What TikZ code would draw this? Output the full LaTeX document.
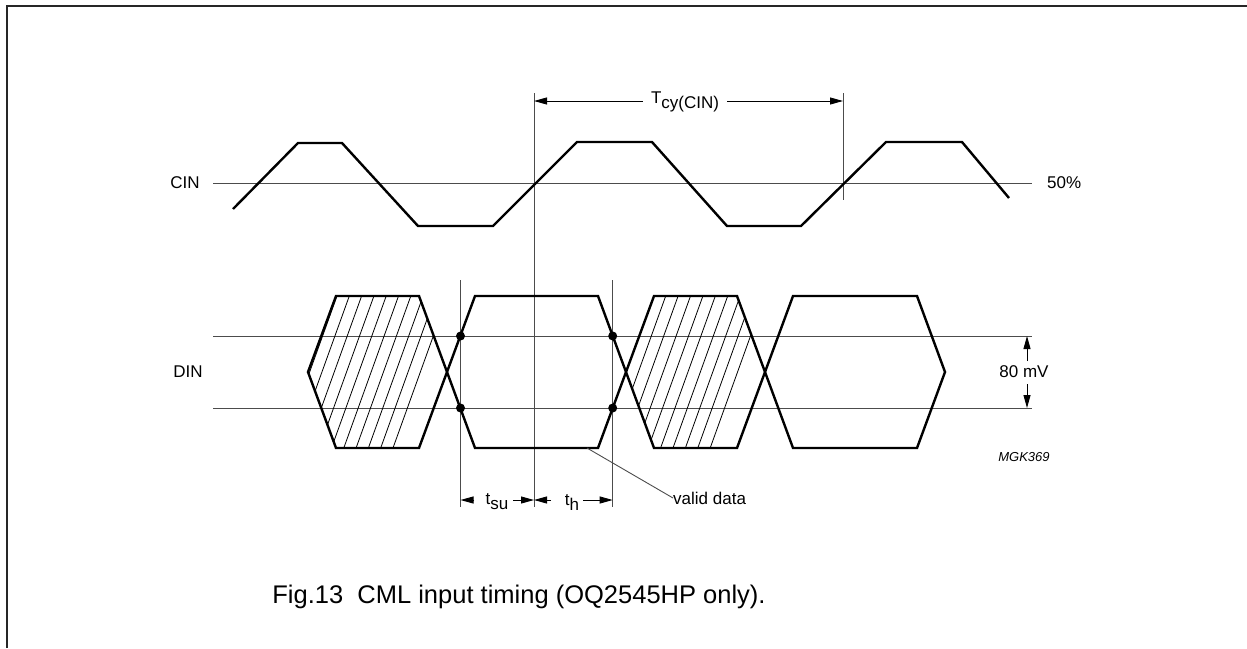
\documentclass[tikz,border=0pt]{standalone}
\usepackage{fontspec}
\setmainfont{Liberation Sans}
\usetikzlibrary{arrows.meta}
\newcommand\lowr[1]{\raisebox{-5pt}{#1}}
\begin{document}
\begin{tikzpicture}[x=1pt,y=-1pt,
  wave/.style={line width=2.4pt, line join=miter},
  thinln/.style={line width=0.9pt, draw=black!70},
  hatchln/.style={line width=0.8pt},
  dimarr/.style={line width=0.9pt, -{Triangle[length=13pt,width=7pt]}},
  lbl/.style={font=\fontsize{17}{19}\selectfont, inner sep=0pt},
  dotmark/.style={circle, fill=black, inner sep=0pt, minimum size=9pt}]
\useasboundingbox (0,0) rectangle (1247,648);
% frame
\draw[line width=2pt, black!85] (7,648) -- (7,6) -- (1247,6);

% reference lines
\coordinate (cinL) at (213,183); \coordinate (cinR) at (1032,183);
\draw[thinln] (cinL) -- (cinR);
\coordinate (thA1) at (213,336); \coordinate (thA2) at (1032,336);
\coordinate (thB1) at (213,408); \coordinate (thB2) at (1032,408);
\draw[thinln] (thA1) -- (thA2);
\draw[thinln] (thB1) -- (thB2);
\coordinate (v1t) at (534,93); \coordinate (v1b) at (534,507);
\coordinate (v2t) at (843,93); \coordinate (v2b) at (843,200);
\coordinate (v3t) at (460.5,280); \coordinate (v3b) at (460.5,507);
\coordinate (v4t) at (612.7,280); \coordinate (v4b) at (612.7,507);
\draw[thinln] (v1t) -- (v1b);
\draw[thinln] (v2t) -- (v2b);
\draw[thinln] (v3t) -- (v3b);
\draw[thinln] (v4t) -- (v4b);

% CIN waveform
\draw[wave] (233,209) -- (298,143) -- (342,143) -- (418,226) -- (493,226) -- (577,142) -- (652,142) -- (727,226) -- (801,226) -- (886,142) -- (962,142) -- (1009,198);

% hatching
\begin{scope}
\clip (308,372) -- (336,296) -- (419,296) -- (447,372) -- (419,448) -- (336,448) -- cycle;
\foreach \k in {-7,...,8} {
  \draw[hatchln] ({349.3+12.3*\k+5.04},282) -- ({349.3+12.3*\k-59.76},462);
}
\end{scope}
\begin{scope}
\clip (626,372) -- (654,296) -- (737,296) -- (765,372) -- (737,448) -- (654,448) -- cycle;
\foreach \k in {-7,...,8} {
  \draw[hatchln] ({665.7+12.4*\k+5.04},282) -- ({665.7+12.4*\k-59.76},462);
}
\end{scope}

% DIN hexagons
\draw[wave] (308,372) -- (336,296) -- (419,296) -- (447,372) -- (419,448) -- (336,448) -- cycle;
\draw[wave] (447,372) -- (475,296) -- (598,296) -- (626,372) -- (598,448) -- (475,448) -- cycle;
\draw[wave] (626,372) -- (654,296) -- (737,296) -- (765,372) -- (737,448) -- (654,448) -- cycle;
\draw[wave] (765,372) -- (793,296) -- (917,296) -- (945,372) -- (917,448) -- (793,448) -- cycle;

% dots
\node[dotmark] (d1) at (460.5,336) {};
\node[dotmark] (d2) at (460.5,408) {};
\node[dotmark] (d3) at (612.7,336) {};
\node[dotmark] (d4) at (612.7,408) {};

% labels
\node[lbl] (cin) at (185,183) {CIN};
\node[lbl] (din) at (188,372) {DIN};
\node[lbl, anchor=west] (pct) at (1047,183) {50\%};

% Tcy
\node[lbl, inner xsep=8pt] (tcy) at (685,102) {T\lowr{cy(CIN)}};
\coordinate (tcyL) at (534,101); \coordinate (tcyR) at (843,101);
\draw[dimarr] (tcy.west |- tcyL) -- (tcyL);
\draw[dimarr] (tcy.east |- tcyR) -- (tcyR);

% tsu, th
\node[lbl] (tsu) at (497,502) {t\lowr{su}};
\node[lbl] (th) at (572,502) {t\lowr{h}};
\coordinate (su1) at (474,500); \coordinate (su2) at (513,500);
\coordinate (h1) at (551,500); \coordinate (h2) at (583,500);
\draw[dimarr] (su1) -- (v3b |- su1);
\draw[dimarr] (su2) -- (v1b |- su2);
\draw[dimarr] (h1) -- (v1b |- h1);
\draw[dimarr] (h2) -- (v4b |- h2);

% valid data
\node[lbl, anchor=west] (vd) at (673,498) {valid data};
\coordinate (vdS) at (587,448);
\draw[thinln] (vdS) -- (vd.west);

% 80 mV
\node[lbl] (mv) at (1024,372) {80 mV};
\coordinate (mvA) at (1027,361); \coordinate (mvB) at (1027,384);
\draw[dimarr] (mvA) -- (mvA |- thA2);
\draw[dimarr] (mvB) -- (mvB |- thB2);

% code
\node[inner sep=0pt, font=\fontsize{13}{15}\selectfont\itshape] (mgk) at (1024,457) {MGK369};

% caption
\node[inner sep=0pt, font=\fontsize{25.5}{27}\selectfont] (cap) at (519,597) {Fig.13\ \ CML input timing (OQ2545HP only).};
\end{tikzpicture}
\end{document}
